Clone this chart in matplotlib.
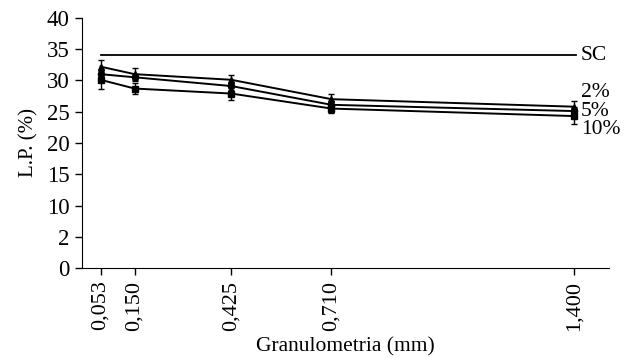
import matplotlib.pyplot as plt

plt.rcParams['font.family'] = ['Liberation Serif', 'DejaVu Serif']

granulometria = [0.053, 0.150, 0.425, 0.710, 1.400]
tick_labels = ['0,053', '0,150', '0,425', '0,710', '1,400']
sc = 34.0
lp_2 = [32.2, 31.0, 30.1, 27.0, 25.8]
lp_5 = [31.0, 30.5, 29.1, 26.1, 25.1]
lp_10 = [30.1, 28.7, 27.9, 25.5, 24.3]
err_2 = [1.0, 1.0, 0.7, 0.9, 0.9]
err_5 = [0.6, 0.6, 0.6, 0.6, 0.6]
err_10 = [1.4, 0.9, 1.1, 0.7, 1.3]
y_ticks = [0, 5, 10, 15, 20, 25, 30, 35, 40]
y_tick_labels = ['0', '2', '10', '15', '20', '25', '30', '35', '40']

fig = plt.figure(figsize=(6.3, 3.57), dpi=100)
ax = fig.add_axes([0.130, 0.249, 0.837, 0.701])

ax.plot([granulometria[0], granulometria[-1] + 0.005], [sc, sc], color='black', lw=1.3)
series = [(lp_2, err_2, '^'), (lp_5, err_5, 'o'), (lp_10, err_10, 's')]
for vals, errs, mk in series:
    ax.errorbar(granulometria, vals, yerr=errs, color='black', lw=1.4,
                marker=mk, markersize=4.5, capsize=2.5, elinewidth=1.0, capthick=1.0)

ax.text(1.42, sc, 'SC', fontsize=15.5, va='center', ha='left')
ax.text(1.42, 28.0, '2%', fontsize=15.5, va='center', ha='left')
ax.text(1.42, 25.1, '5%', fontsize=15.5, va='center', ha='left')
ax.text(1.42, 22.2, '10%', fontsize=15.5, va='center', ha='left')

ax.set_xlim(0, 1.5)
ax.set_ylim(0, 40)
ax.set_xticks(granulometria)
ax.set_xticklabels(tick_labels, rotation=90, fontsize=16)
ax.set_yticks(y_ticks)
ax.set_yticklabels(y_tick_labels, fontsize=16.5)
ax.tick_params(direction='out', length=5, width=1, pad=4)
ax.spines['top'].set_visible(False)
ax.spines['right'].set_visible(False)
ax.set_xlabel('Granulometria (mm)', fontsize=15.5, labelpad=5)
ax.set_ylabel('L.P. (%)', fontsize=15, labelpad=6)

fig.savefig('out.png', dpi=100)
